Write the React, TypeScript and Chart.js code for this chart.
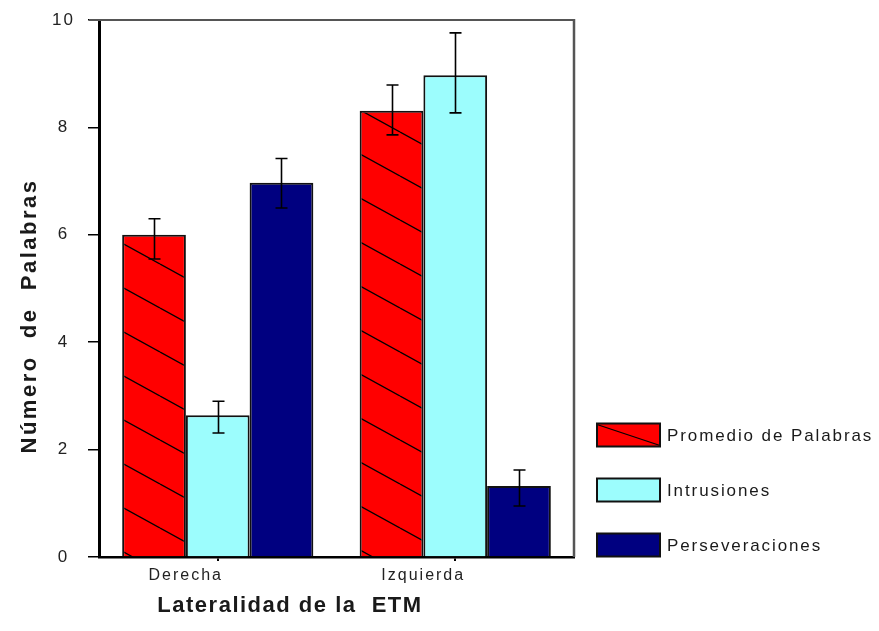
import React, { useEffect, useRef } from 'react';
import { Chart, registerables } from 'chart.js';
Chart.register(...registerables);

const categories = ['Derecha', 'Izquierda'];
const seriesNames = ['Promedio de Palabras', 'Intrusiones', 'Perseveraciones'];
const promedio = [6.0, 8.31];
const intrusiones = [2.64, 8.97];
const perseveraciones = [6.97, 1.32];
const promedioHigh = [6.3, 8.79];
const promedioLow = [5.55, 7.86];
const intrusionesHigh = [2.9, 9.76];
const intrusionesLow = [2.31, 8.27];
const perseveracionesHigh = [7.42, 1.62];
const perseveracionesLow = [6.5, 0.95];
const yTicks = [0, 2, 4, 6, 8, 10];
const yTitle = 'Número  de  Palabras';
const xTitle = 'Lateralidad de la  ETM';

const FONT = '"Liberation Sans", Arial, sans-serif';
const RED = '#ff0000';
const CYAN = '#9cfdfd';
const NAVY = '#000080';

function makeHatch(): CanvasPattern | string {
  const W = 80, H = 44;
  const c = document.createElement('canvas');
  c.width = W; c.height = H;
  const g = c.getContext('2d');
  if (!g) return RED;
  g.fillStyle = RED;
  g.fillRect(0, 0, W, H);
  g.strokeStyle = '#000';
  g.lineWidth = 1.3;
  for (const off of [-H, 0, H]) {
    g.beginPath();
    g.moveTo(0, off);
    g.lineTo(W, off + H);
    g.stroke();
  }
  return g.createPattern(c, 'repeat') || RED;
}

const highs = [promedioHigh, intrusionesHigh, perseveracionesHigh];
const lows = [promedioLow, intrusionesLow, perseveracionesLow];

const decorPlugin = {
  id: 'decor',
  beforeUpdate(chart: any) {
    chart.ctx.letterSpacing = '2px';
  },
  beforeDraw(chart: any) {
    chart.ctx.letterSpacing = '2px';
  },
  afterDatasetsDraw(chart: any) {
    const ctx = chart.ctx;
    const yS = chart.scales.y;
    ctx.save();
    ctx.strokeStyle = '#000';
    ctx.lineWidth = 1.6;
    chart.data.datasets.forEach((_: any, i: number) => {
      const meta = chart.getDatasetMeta(i);
      meta.data.forEach((el: any, j: number) => {
        const x = Math.round(el.x) + 0.5;
        const yh = yS.getPixelForValue(highs[i][j]);
        const yl = yS.getPixelForValue(lows[i][j]);
        ctx.beginPath();
        ctx.moveTo(x, yh);
        ctx.lineTo(x, yl);
        ctx.moveTo(x - 6, yh);
        ctx.lineTo(x + 6, yh);
        ctx.moveTo(x - 6, yl);
        ctx.lineTo(x + 6, yl);
        ctx.stroke();
      });
    });
    ctx.restore();
  },
  afterDraw(chart: any) {
    const ctx = chart.ctx;
    const a = chart.chartArea;
    ctx.save();
    // frame: top and right
    ctx.strokeStyle = '#555';
    ctx.lineWidth = 2;
    ctx.beginPath();
    ctx.moveTo(a.left - 10, a.top);
    ctx.lineTo(a.right, a.top);
    ctx.stroke();
    ctx.lineWidth = 2.5;
    ctx.beginPath();
    ctx.moveTo(a.right, a.top - 1);
    ctx.lineTo(a.right, a.bottom);
    ctx.stroke();

    // legend
    const ds = chart.data.datasets;
    const ys = [435, 490, 545];
    ds.forEach((d: any, i: number) => {
      const bx = 597, by = ys[i] - 11.5, bw = 63, bh = 23;
      ctx.fillStyle = i === 0 ? RED : d.backgroundColor;
      ctx.fillRect(bx, by, bw, bh);
      if (i === 0) {
        ctx.strokeStyle = '#000';
        ctx.lineWidth = 1.3;
        ctx.beginPath();
        ctx.moveTo(bx, by + 1);
        ctx.lineTo(bx + bw, by + bh - 1);
        ctx.stroke();
      }
      ctx.strokeStyle = '#111';
      ctx.lineWidth = 2;
      ctx.strokeRect(bx, by, bw, bh);
      ctx.fillStyle = '#1a1a1a';
      ctx.font = `17px ${FONT}`;
      ctx.letterSpacing = '1.9px';
      ctx.textAlign = 'left';
      ctx.textBaseline = 'middle';
      ctx.fillText(d.label, 667, ys[i] + 1);
    });

    // axis titles
    ctx.fillStyle = '#1a1a1a';
    ctx.font = `bold 22px ${FONT}`;
    ctx.textAlign = 'center';
    ctx.textBaseline = 'middle';
    ctx.letterSpacing = '1.5px';
    ctx.fillText(xTitle, 290, 606);
    ctx.save();
    ctx.translate(30, 316);
    ctx.rotate(-Math.PI / 2);
    ctx.letterSpacing = '2.5px';
    ctx.fillText(yTitle, 0, 0);
    ctx.restore();
    ctx.restore();
  },
};

export default function App() {
  const ref = useRef<HTMLCanvasElement>(null);
  useEffect(() => {
    if (!ref.current) return;
    const hatch = makeHatch();
    const common = { borderColor: '#111', borderWidth: 2, categoryPercentage: 0.805, barPercentage: 1.0, borderSkipped: 'bottom' };
    const chart = new Chart(ref.current, {
      type: 'bar',
      data: {
        labels: categories,
        datasets: [
          { label: seriesNames[0], data: promedio, backgroundColor: hatch as any, ...common },
          { label: seriesNames[1], data: intrusiones, backgroundColor: CYAN, ...common },
          { label: seriesNames[2], data: perseveraciones, backgroundColor: NAVY, ...common },
        ] as any,
      },
      options: {
        responsive: false,
        animation: false,
        layout: { padding: { left: 0, top: 20, right: 305, bottom: 0 } },
        plugins: { legend: { display: false }, tooltip: { enabled: false }, title: { display: false } },
        scales: {
          x: {
            type: 'category',
            offset: true,
            grid: { display: true, drawOnChartArea: false, offset: false, tickLength: 4, color: '#000', lineWidth: 2 },
            border: { display: true, color: '#000', width: 2.5 },
            ticks: { color: '#222', font: { family: FONT, size: 16 }, labelOffset: -32, padding: 5, maxRotation: 0 },
            afterFit: (s: any) => { s.height = 74; s.paddingLeft = 0; s.paddingRight = 0; },
          },
          y: {
            min: 0,
            max: 10,
            afterBuildTicks: (s: any) => { s.ticks = yTicks.map((v) => ({ value: v })); },
            grid: { display: true, drawOnChartArea: false, tickLength: 11, color: '#000', lineWidth: 1.5 },
            border: { display: true, color: '#000', width: 3 },
            ticks: { color: '#222', font: { family: FONT, size: 17 }, padding: 13, crossAlign: 'center' },
            afterFit: (s: any) => { s.width = 99; s.paddingTop = 0; s.paddingBottom = 0; },
          },
        },
      } as any,
      plugins: [decorPlugin],
    });
    return () => chart.destroy();
  }, []);
  return (
    <div style={{ position: 'absolute', left: 0, top: 0, width: 879, height: 631, background: '#fff' }}>
      <canvas ref={ref} width={879} height={631} style={{ display: 'block' }} />
    </div>
  );
}
